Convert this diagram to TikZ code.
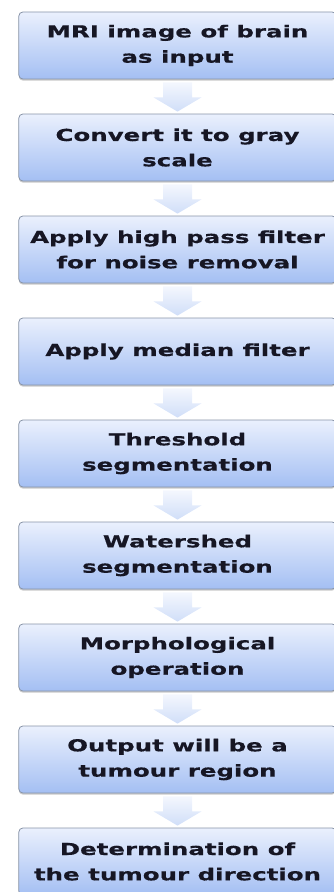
\documentclass[tikz,border=0pt]{standalone}
\usepackage{fontspec}
\newfontfamily\boxfont[FakeStretch=1.48, BoldFeatures={FakeBold=0.5}]{DejaVu Sans}
\usetikzlibrary{shadows,calc}
\definecolor{boxtop}{RGB}{234,240,253}
\definecolor{boxbot}{RGB}{164,191,243}
\definecolor{boxline}{RGB}{136,148,168}
\definecolor{arrtop}{RGB}{244,247,254}
\definecolor{arrbot}{RGB}{208,222,248}
\definecolor{txt}{RGB}{22,22,36}
\tikzset{
  stepbox/.style={rounded corners=3pt, draw=boxline, line width=0.6pt,
    top color=boxtop, bottom color=boxbot,
    minimum width=238pt, minimum height=50.25pt, align=center, inner sep=0pt,
    font={\boxfont\bfseries\fontsize{12.4}{19}\selectfont}, text=txt,
    drop shadow={shadow xshift=0pt, shadow yshift=-1.2pt, opacity=0.35, fill=black!60}},
  flowarrow/.style={top color=arrtop, bottom color=arrbot, draw=none}
}
\newcommand\flowarr[2]{\path[flowarrow]
  ($(#1.south)+(-14.5,3)$) -- ($(#1.south)+(14.5,3)$) -- ($(#1.south)+(14.5,18)$)
  -- ($(#1.south)+(24,18)$) -- ($(#2.north)+(0,-2)$) -- ($(#1.south)+(-24,18)$)
  -- ($(#1.south)+(-14.5,18)$) -- cycle;}
\begin{document}
\begin{tikzpicture}[x=0.75pt,y=-0.75pt]
\useasboundingbox (0,0) rectangle (334,892);
\clip (0,0) rectangle (334,892);
\node[stepbox] (s1) at (177.5,45.5) {MRI image of brain\\as input};
\node[stepbox] (s2) at (177.5,147.5) {Convert it to gray\\scale};
\node[stepbox] (s3) at (177.5,249.5) {Apply high pass filter\\for noise removal};
\node[stepbox] (s4) at (177.5,351.5) {Apply median filter};
\node[stepbox] (s5) at (177.5,453.5) {Threshold\\segmentation};
\node[stepbox] (s6) at (177.5,555.5) {Watershed\\segmentation};
\node[stepbox] (s7) at (177.5,657.5) {Morphological\\operation};
\node[stepbox] (s8) at (177.5,759.5) {Output will be a\\tumour region};
\node[stepbox] (s9) at (177.5,861.5) {Determination of\\the tumour direction};
\flowarr{s1}{s2}
\flowarr{s2}{s3}
\flowarr{s3}{s4}
\flowarr{s4}{s5}
\flowarr{s5}{s6}
\flowarr{s6}{s7}
\flowarr{s7}{s8}
\flowarr{s8}{s9}
\end{tikzpicture}
\end{document}
